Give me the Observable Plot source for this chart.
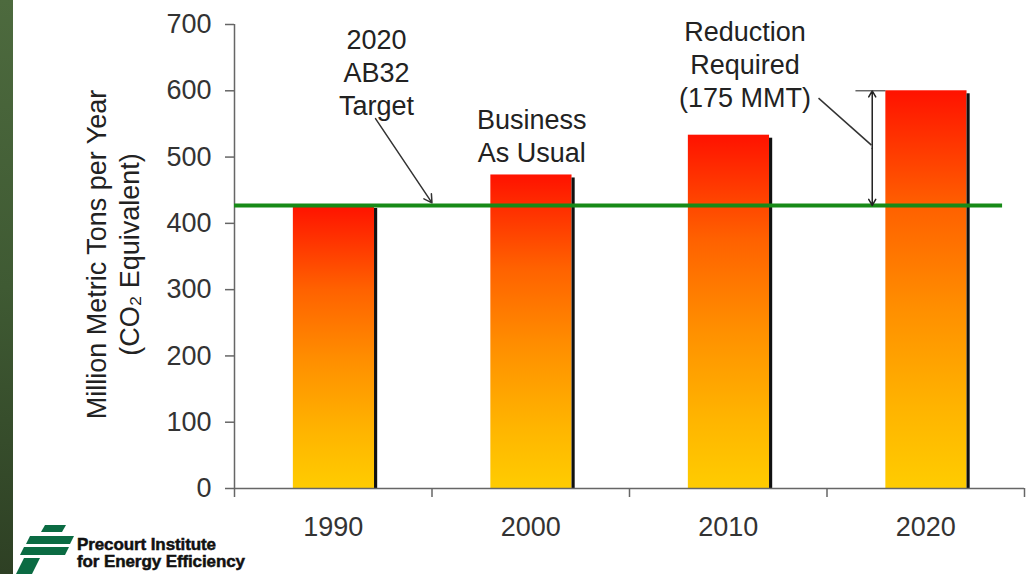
<!DOCTYPE html>
<html>
<head>
<meta charset="utf-8">
<script src="https://cdn.jsdelivr.net/npm/d3@7"></script>
<script src="https://cdn.jsdelivr.net/npm/@observablehq/plot@0.6"></script>
<style>
  html, body { margin: 0; padding: 0; background: #fff; }
  #wrap { position: relative; width: 1032px; height: 574px; overflow: hidden; }
  #strip { position: absolute; left: 0; top: 0; width: 13px; height: 574px;
           background: linear-gradient(#4d6a3e, #3f5a33 50%, #2e4024); }
  #logo { position: absolute; left: 0; top: 515px; }
</style>
</head>
<body>
<div id="wrap"><div id="strip"></div></div>
<script>
// ---- data ----
const years = ["1990", "2000", "2010", "2020"];
const emissions = [427, 473, 533, 600];
const target = 427;
const yTicks = [0, 100, 200, 300, 400, 500, 600, 700];
const yLabel = "Million Metric Tons per Year\n(CO₂ Equivalent)";
const targetNote = "2020\nAB32\nTarget";
const bauNote = "Business\nAs Usual";
const reductionNote = "Reduction\nRequired\n(175 MMT)";

const rows = years.map((y, i) => ({year: y, i, value: emissions[i]}));
const font = "'Liberation Sans', Arial, Helvetica, sans-serif";

const chart = Plot.plot({
  width: 1032,
  height: 574,
  marginLeft: 234,
  marginRight: 8,
  marginTop: 24,
  marginBottom: 86,
  style: {fontFamily: font, color: "#222", background: "transparent"},
  x: {type: "linear", domain: [0, years.length], axis: null, label: null},
  y: {domain: [0, 700], axis: null, label: null},
  marks: [
    // bars
    Plot.rect(rows, {x1: d => d.i + 0.298, x2: d => d.i + 0.709, y1: 0, y2: "value", fill: "url(#barGrad)"}),
    // bar shadows
    Plot.rect(rows, {x1: d => d.i + 0.709, x2: d => d.i + 0.725, y1: 0, y2: "value", insetTop: 3, fill: "#111"}),
    // axes lines
    Plot.ruleY([0], {stroke: "#666", strokeWidth: 1.5}),
    Plot.ruleX([0], {y1: 0, y2: 700, stroke: "#666", strokeWidth: 1.5}),
    Plot.axisY({ticks: yTicks, label: null, tickSize: 9, tickPadding: 14, fontSize: 27, stroke: "#666", fill: "#333", strokeWidth: 1.5}),
    // category boundary ticks
    Plot.axisX({ticks: d3.range(years.length + 1), label: null, tickSize: 9, tickFormat: () => "", stroke: "#666", strokeWidth: 1.5}),
    // category labels
    Plot.axisX({ticks: years.map((y, i) => i + 0.5), label: null, tickSize: 0, tickPadding: 28, fontSize: 27, fill: "#333",
                tickFormat: d => years[Math.floor(d)]}),
    // target line
    Plot.ruleY([target], {x1: 0, x2: 3.889, stroke: "#178a17", strokeWidth: 4}),
    // annotations
    Plot.text([targetNote], {x: 0.719, y: 629.5, text: d => d, fontSize: 27, lineHeight: 1.22, fill: "#222"}),
    Plot.text([bauNote], {x: 1.505, y: 534, text: d => d, fontSize: 27, lineHeight: 1.22, fill: "#222"}),
    Plot.text([reductionNote], {x: 2.585, y: 641.5, text: d => d, fontSize: 27, lineHeight: 1.22, fill: "#222"}),
    // target arrow
    Plot.arrow([0], {x1: 0.714, y1: 558, x2: 1.0, y2: 431, stroke: "#333", strokeWidth: 1.5, headLength: 9}),
    // reduction callout line
    Plot.link([0], {x1: 2.957, y1: 589, x2: 3.225, y2: 518, stroke: "#333", strokeWidth: 1.5}),
    // reduction double arrow
    Plot.arrow([0], {x1: 3.229, y1: 513, x2: 3.229, y2: emissions[3], stroke: "#222", strokeWidth: 1.5, headLength: 7}),
    Plot.arrow([0], {x1: 3.229, y1: 513, x2: 3.229, y2: target, stroke: "#222", strokeWidth: 1.5, headLength: 7}),
    Plot.link([0], {x1: 3.144, x2: 3.296, y1: emissions[3], y2: emissions[3], stroke: "#444", strokeWidth: 1.2}),
    // y axis title
    Plot.text([yLabel], {frameAnchor: "left", dx: -123, dy: -2, rotate: -90, textAnchor: "middle", lineAnchor: "middle",
                         text: d => d, fontSize: 27, lineHeight: 1.22, fill: "#222"})
  ]
});

d3.select(chart).insert("defs", ":first-child").html(`
  <linearGradient id="barGrad" x1="0" y1="0" x2="0" y2="1">
    <stop offset="0" stop-color="#ff1200"/>
    <stop offset="0.3" stop-color="#ff6200"/>
    <stop offset="0.55" stop-color="#ff8f00"/>
    <stop offset="0.8" stop-color="#ffb400"/>
    <stop offset="1" stop-color="#ffcc00"/>
  </linearGradient>`);

const wrap = document.getElementById("wrap");
chart.style.position = "absolute";
chart.style.left = "0";
chart.style.top = "0";
wrap.insertBefore(chart, wrap.firstChild);

// logo (decoration)
const logo = document.createElementNS("http://www.w3.org/2000/svg", "svg");
logo.setAttribute("id", "logo");
logo.setAttribute("width", "260");
logo.setAttribute("height", "59");
logo.innerHTML = `
  <g fill="#0b6b43">
    <polygon points="45,10 66,10 62,17 41,17"/>
    <polygon points="30,21 74,21 70,29 26,29"/>
    <polygon points="24,32 69,32 65,40 20,40"/>
    <polygon points="24,43 40,43 32,59 16,59"/>
  </g>
  <g font-family="'Liberation Sans', Arial, sans-serif" font-weight="bold" font-size="17" fill="#111"
     stroke="#111" stroke-width="0.5" letter-spacing="-0.1">
    <text x="77" y="35">Precourt Institute</text>
    <text x="77" y="52">for Energy Efficiency</text>
  </g>`;
wrap.appendChild(logo);
</script>
</body>
</html>
